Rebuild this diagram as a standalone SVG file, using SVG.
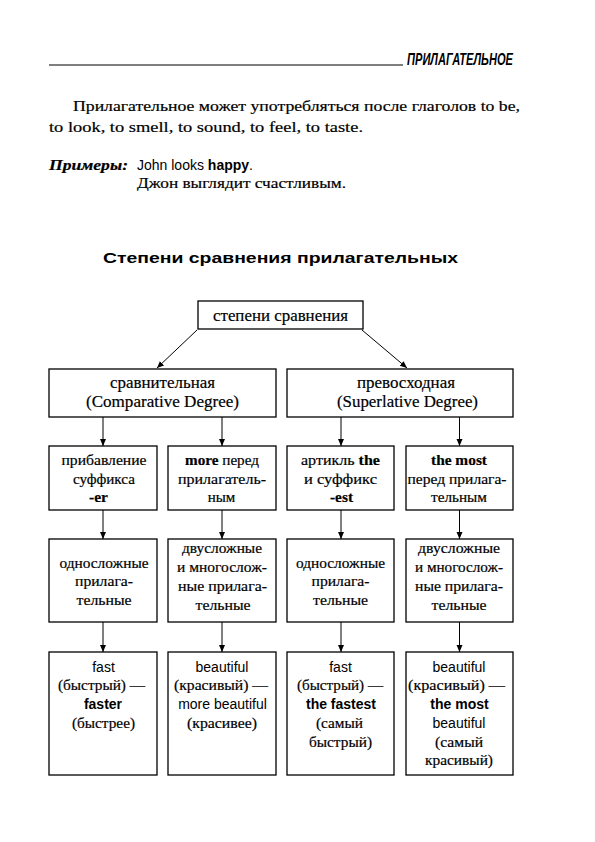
<svg xmlns="http://www.w3.org/2000/svg" width="595" height="842" viewBox="0 0 595 842">
<style>
.bg{fill:#fff}
.box{fill:#fff;stroke:#000;stroke-width:1.3}
.con{stroke:#000;stroke-width:1;fill:none}
.s{font-family:"Liberation Serif","DejaVu Serif",serif;font-size:15px;fill:#000;stroke:#000;stroke-width:0.2}
.ss{font-family:"Liberation Sans","DejaVu Sans",sans-serif;font-size:14px;fill:#000}
.b{font-weight:bold}
.c{text-anchor:middle}
.big{font-size:17px}
</style>
<defs>
<marker id="ah" markerWidth="8" markerHeight="8" refX="7" refY="3" orient="auto" markerUnits="userSpaceOnUse">
<path d="M0,0 L7,3 L0,6 z" fill="#000"/>
</marker>
</defs>
<rect class="bg" x="0" y="0" width="595" height="842"/>

<g id="header">
<line x1="49" y1="65" x2="403" y2="65" stroke="#000" stroke-width="1.2"/>
<text x="407" y="65" font-family="Liberation Sans,sans-serif" font-weight="bold" font-style="italic" font-size="17" textLength="106" lengthAdjust="spacingAndGlyphs">ПРИЛАГАТЕЛЬНОЕ</text>
</g>

<g id="paragraph">
<text class="s" x="73" y="111" font-size="16" textLength="447" lengthAdjust="spacingAndGlyphs">Прилагательное может употребляться после глаголов to be,</text>
<text class="s" x="49" y="132" font-size="16" textLength="314" lengthAdjust="spacingAndGlyphs">to look, to smell, to sound, to feel, to taste.</text>
<text class="s b" x="49" y="170" font-size="16" font-style="italic" textLength="79" lengthAdjust="spacingAndGlyphs">Примеры:</text>
<text class="ss" x="137" y="170" font-size="15.5">John looks <tspan class="b">happy</tspan>.</text>
<text class="s" x="137" y="188" font-size="15.5" textLength="209" lengthAdjust="spacingAndGlyphs">Джон выглядит счастливым.</text>
</g>

<g id="title">
<text class="ss b" x="103" y="263" font-size="17" textLength="355" lengthAdjust="spacingAndGlyphs">Степени сравнения прилагательных</text>
</g>

<g id="connectors">
<line class="con" x1="197" y1="330" x2="157" y2="368" marker-end="url(#ah)"/>
<line class="con" x1="362" y1="330" x2="407" y2="368" marker-end="url(#ah)"/>
<line class="con" x1="103" y1="417" x2="103" y2="446" marker-end="url(#ah)"/>
<line class="con" x1="222" y1="417" x2="222" y2="446" marker-end="url(#ah)"/>
<line class="con" x1="341" y1="417" x2="341" y2="446" marker-end="url(#ah)"/>
<line class="con" x1="459.5" y1="417" x2="459.5" y2="446" marker-end="url(#ah)"/>
<line class="con" x1="103" y1="510" x2="103" y2="539" marker-end="url(#ah)"/>
<line class="con" x1="222" y1="510" x2="222" y2="539" marker-end="url(#ah)"/>
<line class="con" x1="341" y1="510" x2="341" y2="539" marker-end="url(#ah)"/>
<line class="con" x1="459.5" y1="510" x2="459.5" y2="539" marker-end="url(#ah)"/>
<line class="con" x1="103" y1="622" x2="103" y2="652" marker-end="url(#ah)"/>
<line class="con" x1="222" y1="622" x2="222" y2="652" marker-end="url(#ah)"/>
<line class="con" x1="341" y1="622" x2="341" y2="652" marker-end="url(#ah)"/>
<line class="con" x1="459.5" y1="622" x2="459.5" y2="652" marker-end="url(#ah)"/>
</g>

<g id="root">
<rect class="box" x="198" y="301" width="165" height="28"/>
<text class="s c big" x="280.5" y="321" textLength="135" lengthAdjust="spacingAndGlyphs">степени сравнения</text>
</g>

<g id="comparative">
<rect class="box" x="49" y="369" width="227" height="48"/>
<text class="s c big" x="162.5" y="388" textLength="105" lengthAdjust="spacingAndGlyphs">сравнительная</text>
<text class="s c big" x="162.5" y="407" textLength="153" lengthAdjust="spacingAndGlyphs">(Comparative Degree)</text>
</g>
<g id="superlative">
<rect class="box" x="287" y="369" width="226" height="48"/>
<text class="s c big" x="406" y="388" textLength="98" lengthAdjust="spacingAndGlyphs">превосходная</text>
<text class="s c big" x="407.5" y="407" textLength="141" lengthAdjust="spacingAndGlyphs">(Superlative Degree)</text>
</g>

<g id="c-suffix">
<rect class="box" x="49" y="446" width="108" height="64"/>
<text class="s c" x="104" y="465" textLength="85" lengthAdjust="spacingAndGlyphs">прибавление</text>
<text class="s c" x="104" y="484" textLength="62" lengthAdjust="spacingAndGlyphs">суффикса</text>
<text class="s c b" x="98.5" y="502" textLength="19" lengthAdjust="spacingAndGlyphs">-er</text>
</g>
<g id="c-more">
<rect class="box" x="168" y="446" width="108" height="64"/>
<text class="s c" x="222" y="465" textLength="74" lengthAdjust="spacingAndGlyphs"><tspan class="b">more</tspan> перед</text>
<text class="s c" x="222" y="484" textLength="88" lengthAdjust="spacingAndGlyphs">прилагатель-</text>
<text class="s c" x="221.5" y="502">ным</text>
</g>
<g id="s-suffix">
<rect class="box" x="287" y="446" width="107" height="64"/>
<text class="s c" x="340.5" y="465" textLength="79" lengthAdjust="spacingAndGlyphs">артикль <tspan class="b">the</tspan></text>
<text class="s c" x="340.5" y="484" textLength="73" lengthAdjust="spacingAndGlyphs">и суффикс</text>
<text class="s c b" x="341.5" y="502" textLength="23" lengthAdjust="spacingAndGlyphs">-est</text>
</g>
<g id="s-most">
<rect class="box" x="406" y="446" width="107" height="64"/>
<text class="s c b" x="459" y="465" textLength="56" lengthAdjust="spacingAndGlyphs">the most</text>
<text class="s c" x="457" y="484" textLength="99" lengthAdjust="spacingAndGlyphs">перед прилага-</text>
<text class="s c" x="459" y="502" textLength="56" lengthAdjust="spacingAndGlyphs">тельным</text>
</g>

<g id="c-mono">
<rect class="box" x="49" y="539" width="108" height="83"/>
<text class="s c" x="104" y="568" textLength="89" lengthAdjust="spacingAndGlyphs">односложные</text>
<text class="s c" x="104" y="586" textLength="58" lengthAdjust="spacingAndGlyphs">прилага-</text>
<text class="s c" x="104" y="605" textLength="55" lengthAdjust="spacingAndGlyphs">тельные</text>
</g>
<g id="c-poly">
<rect class="box" x="168" y="539" width="108" height="83"/>
<text class="s c" x="222" y="553" textLength="80" lengthAdjust="spacingAndGlyphs">двусложные</text>
<text class="s c" x="222" y="572" textLength="90" lengthAdjust="spacingAndGlyphs">и многослож-</text>
<text class="s c" x="222.5" y="591" textLength="89" lengthAdjust="spacingAndGlyphs">ные прилага-</text>
<text class="s c" x="223" y="610" textLength="55" lengthAdjust="spacingAndGlyphs">тельные</text>
</g>
<g id="s-mono">
<rect class="box" x="287" y="539" width="107" height="83"/>
<text class="s c" x="340.5" y="568" textLength="89" lengthAdjust="spacingAndGlyphs">односложные</text>
<text class="s c" x="340.5" y="586" textLength="58" lengthAdjust="spacingAndGlyphs">прилага-</text>
<text class="s c" x="340.5" y="605" textLength="55" lengthAdjust="spacingAndGlyphs">тельные</text>
</g>
<g id="s-poly">
<rect class="box" x="406" y="539" width="107" height="83"/>
<text class="s c" x="459" y="553" textLength="82" lengthAdjust="spacingAndGlyphs">двусложные</text>
<text class="s c" x="459" y="572" textLength="88" lengthAdjust="spacingAndGlyphs">и многослож-</text>
<text class="s c" x="459" y="591" textLength="88" lengthAdjust="spacingAndGlyphs">ные прилага-</text>
<text class="s c" x="459" y="610" textLength="55" lengthAdjust="spacingAndGlyphs">тельные</text>
</g>

<g id="c-ex1">
<rect class="box" x="49" y="652" width="108" height="123"/>
<text class="ss c" x="103.5" y="672">fast</text>
<text class="s c" x="101.5" y="690" textLength="87" lengthAdjust="spacingAndGlyphs">(быстрый) —</text>
<text class="ss c b" x="103" y="709">faster</text>
<text class="s c" x="103.5" y="728" textLength="63" lengthAdjust="spacingAndGlyphs">(быстрее)</text>
</g>
<g id="c-ex2">
<rect class="box" x="168" y="652" width="108" height="123"/>
<text class="ss c" x="222" y="672">beautiful</text>
<text class="s c" x="221" y="690" textLength="94" lengthAdjust="spacingAndGlyphs">(красивый) —</text>
<text class="ss c" x="222.5" y="709">more beautiful</text>
<text class="s c" x="222" y="728" textLength="70" lengthAdjust="spacingAndGlyphs">(красивее)</text>
</g>
<g id="s-ex1">
<rect class="box" x="287" y="652" width="107" height="123"/>
<text class="ss c" x="340.5" y="672">fast</text>
<text class="s c" x="340" y="690" textLength="86" lengthAdjust="spacingAndGlyphs">(быстрый) —</text>
<text class="ss c b" x="341" y="709">the fastest</text>
<text class="s c" x="339.5" y="728" textLength="47" lengthAdjust="spacingAndGlyphs">(самый</text>
<text class="s c" x="340.5" y="747" textLength="63" lengthAdjust="spacingAndGlyphs">быстрый)</text>
</g>
<g id="s-ex2">
<rect class="box" x="406" y="652" width="107" height="123"/>
<text class="ss c" x="459" y="672">beautiful</text>
<text class="s c" x="456.5" y="690" textLength="97" lengthAdjust="spacingAndGlyphs">(красивый) —</text>
<text class="ss c b" x="459.5" y="709" font-size="15">the most</text>
<text class="ss c" x="459" y="728">beautiful</text>
<text class="s c" x="459" y="747" textLength="48" lengthAdjust="spacingAndGlyphs">(самый</text>
<text class="s c" x="459" y="765" textLength="68" lengthAdjust="spacingAndGlyphs">красивый)</text>
</g>
</svg>
